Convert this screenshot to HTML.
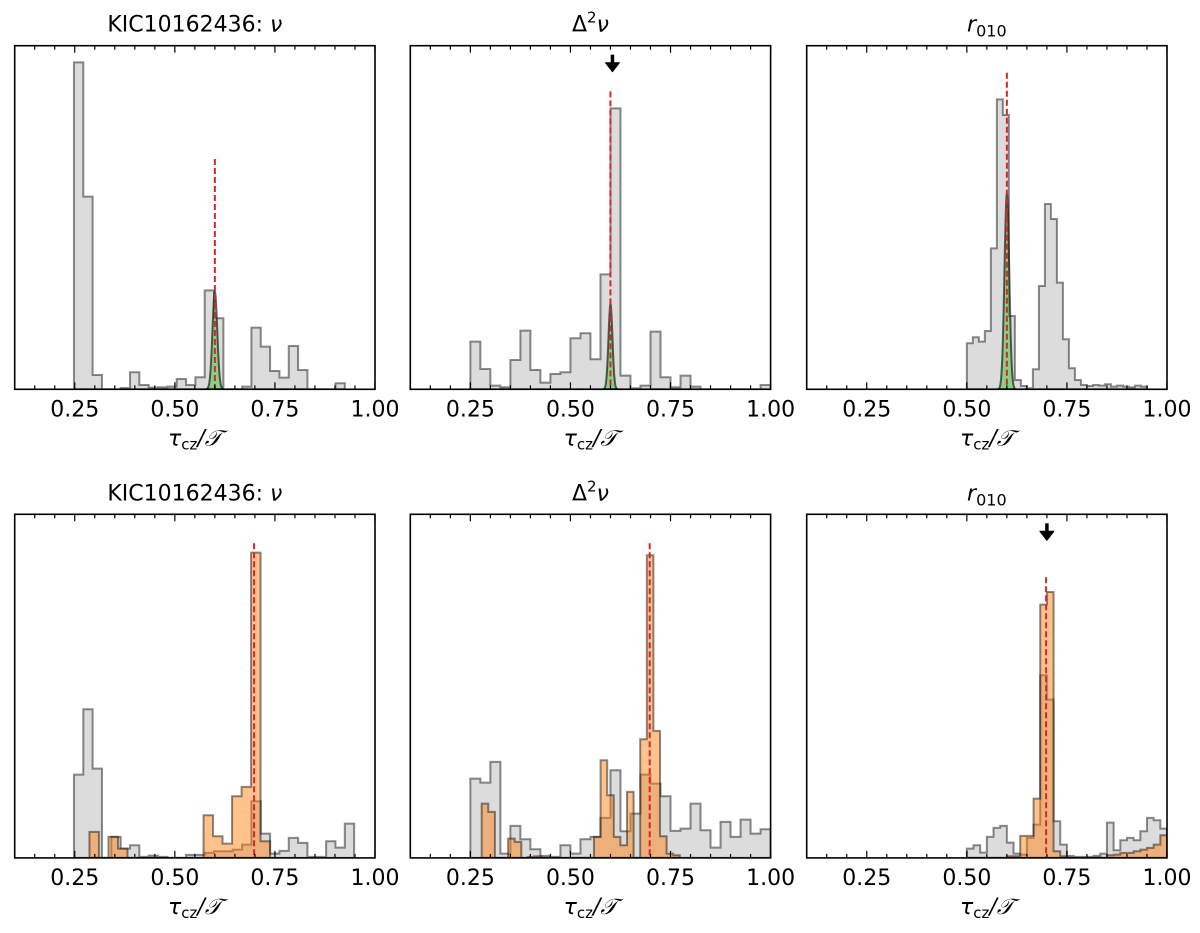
<!DOCTYPE html>
<html><head><meta charset="utf-8"><style>
html,body{margin:0;padding:0;background:#fff;}
svg{display:block;font-family:"DejaVu Sans","Liberation Sans",sans-serif;}
</style></head><body>
<svg id="fig" width="1200" height="933" viewBox="0 0 1200 933" xmlns="http://www.w3.org/2000/svg"></svg>
<script>
// ---- data (heights in relative units; 1031 = full axis height) ----
const xTicks = [0.25, 0.50, 0.75, 1.00];
const xTickLabels = ["0.25", "0.50", "0.75", "1.00"];
const titles = ["KIC10162436: ν", "Δ²ν", "r010", "KIC10162436: ν", "Δ²ν", "r010"];

const p1GreyStart = 0.248, p1GreyWidth = 0.02333;
const p1Grey = [981,578,43,0,0,4,51,13,5,6,8,31,13,36,297,213,0,0,8,185,128,55,35,130,58,0,0,0,18];
const p2GreyStart = 0.25, p2GreyWidth = 0.025;
const p2Grey = [143,61,11,6,88,176,58,20,46,51,153,168,90,345,843,41,3,11,173,36,6,41,8,0,0,0,0,0,0,13];
const p3GreyStart = 0.5, p3GreyWidth = 0.015;
const p3Grey = [138,156,143,175,423,870,823,220,28,10,3,60,310,556,511,320,150,63,28,13,10,13,11,15,8,11,8,6,11,8];

const p4GreyStart = 0.248, p4GreyWidth = 0.02333;
const p4Grey = [250,446,268,0,63,28,38,3,7,3,0,0,9,9,15,20,20,25,40,170,73,13,21,60,45,3,3,50,31,103];
const p4OrangeStart = 0.2867, p4OrangeWidth = 0.02375;
const p4Orange = [78,0,63,28,0,0,0,0,0,0,0,0,128,65,43,185,213,916,50];

const p5GreyStart = 0.25, p5GreyWidth = 0.025;
const p5Grey = [238,226,288,13,96,56,26,6,3,38,13,56,63,120,263,80,133,250,223,185,81,88,163,83,31,108,63,115,73,86];
const p5OrangeStart = 0.2783, p5OrangeWidth = 0.0165;
const p5Orange = [163,138,0,0,58,48,0,3,5,0,0,0,0,0,0,0,0,63,293,188,63,38,198,0,356,908,381,65,13,8];

const p6GreyStart = 0.5, p6GreyWidth = 0.016667;
const p6Grey = [28,38,16,63,90,96,46,13,10,60,100,548,475,110,40,6,3,3,3,6,13,106,23,53,60,53,80,120,113,88];
const p6OrangeStart = 0.5, p6OrangeWidth = 0.016667;
const p6Orange = [0,0,0,0,0,0,5,5,66,66,178,760,798,20,5,0,0,0,0,0,0,8,10,15,15,20,25,30,40,68];

// gaussian fits (top row): centre, sigma, peak
const gaussCentre = [0.6, 0.6, 0.6];
const gaussSigma = [0.006, 0.005, 0.006];
const gaussPeak = [293, 256, 588];

// red dashed reference line: x value and top (relative height)
const refX = [0.6, 0.6, 0.6, 0.698, 0.698, 0.698];
const refTop = [691, 894, 950, 944, 944, 842];
// arrows: panel index, x value
const arrowPanel = [1, 5];
const arrowX = [0.605, 0.70];

// ---- layout ----
const NS = "http://www.w3.org/2000/svg";
const svg = document.getElementById("fig");
const lefts = [14.7, 410.3, 806.7];
const W = 360.3;
const tops = [45.7, 514.3];
const H = 343.6;
const XMIN = 0.1, XMAX = 1.0, YMAX = 1031;

function mk(tag, attrs, parent) {
  const e = document.createElementNS(NS, tag);
  for (const k in attrs) e.setAttribute(k, attrs[k]);
  (parent || svg).appendChild(e);
  return e;
}
function panelGeom(i) {
  return { L: lefts[i % 3], T: tops[Math.floor(i / 3)] };
}
function xs(i, v) { const g = panelGeom(i); return g.L + (v - XMIN) / (XMAX - XMIN) * W; }
function ys(i, v) { const g = panelGeom(i); return g.T + H - v / YMAX * H; }

function histPath(i, start, width, counts) {
  const y0 = ys(i, 0);
  let d = "M" + xs(i, start).toFixed(2) + "," + y0.toFixed(2);
  counts.forEach((c, k) => {
    const a = xs(i, start + k * width), b = xs(i, start + (k + 1) * width), y = ys(i, c);
    d += " L" + a.toFixed(2) + "," + y.toFixed(2) + " L" + b.toFixed(2) + "," + y.toFixed(2);
  });
  d += " L" + xs(i, start + counts.length * width).toFixed(2) + "," + y0.toFixed(2) + " Z";
  return d;
}

const greyData = [[p1GreyStart,p1GreyWidth,p1Grey],[p2GreyStart,p2GreyWidth,p2Grey],[p3GreyStart,p3GreyWidth,p3Grey],
                  [p4GreyStart,p4GreyWidth,p4Grey],[p5GreyStart,p5GreyWidth,p5Grey],[p6GreyStart,p6GreyWidth,p6Grey]];
const orangeData = [null,null,null,[p4OrangeStart,p4OrangeWidth,p4Orange],[p5OrangeStart,p5OrangeWidth,p5Orange],[p6OrangeStart,p6OrangeWidth,p6Orange]];

for (let i = 0; i < 6; i++) {
  const g = panelGeom(i);
  const grp = mk("g", {});
  
  
  const clipId = "clip" + i;
  const cp = mk("clipPath", { id: clipId }, grp);
  mk("rect", { x: g.L, y: g.T, width: W, height: H }, cp);
  const plot = mk("g", { "clip-path": "url(#" + clipId + ")" }, grp);

  const gd = greyData[i];
  const gh = mk("path", { d: histPath(i, gd[0], gd[1], gd[2]), fill: "rgba(128,128,128,0.28)", stroke: "rgba(0,0,0,0.45)", "stroke-width": 2, "stroke-linejoin": "miter" }, plot);
  
  

  if (orangeData[i]) {
    const od = orangeData[i];
    const oh = mk("path", { d: histPath(i, od[0], od[1], od[2]), fill: "rgba(255,127,14,0.48)", stroke: "rgba(0,0,0,0.45)", "stroke-width": 2 }, plot);
    
    
  }
  if (i < 3) {
    let d = "";
    for (let t = -4; t <= 4; t += 0.1) {
      const v = gaussCentre[i] + t * gaussSigma[i];
      const h = gaussPeak[i] * Math.exp(-t * t / 2);
      d += (d ? " L" : "M") + xs(i, v).toFixed(2) + "," + ys(i, h).toFixed(2);
    }
    d += " Z";
    const gp = mk("path", { d: d, fill: "rgba(80,200,80,0.6)", stroke: "rgba(0,0,0,0.6)", "stroke-width": 2 }, plot);
    
    
  }
  const rl = mk("line", { x1: xs(i, refX[i]), x2: xs(i, refX[i]), y1: ys(i, refTop[i]), y2: g.T + H, stroke: "#d62728", "stroke-width": 2, "stroke-dasharray": "6,3" }, plot);
  
  

  // frame
  const fr = mk("rect", { x: g.L, y: g.T, width: W, height: H, fill: "none", stroke: "#000", "stroke-width": 1.6 }, grp);
  
  
  // ticks
  for (let k = 0; k <= 18; k++) {
    const v = XMIN + k * 0.05;
    const x = xs(i, v);
    const major = (k % 5 === 3);
    const len = major ? 7 : 4;
    mk("line", { x1: x, x2: x, y1: g.T + H, y2: g.T + H - len, stroke: "#000", "stroke-width": 1.2 }, grp);
    mk("line", { x1: x, x2: x, y1: g.T, y2: g.T + len, stroke: "#000", "stroke-width": 1.2 }, grp);
  }
  xTicks.forEach((v, k) => {
    const t = mk("text", { x: xs(i, v), y: g.T + H + 27, "text-anchor": "middle", "font-size": 22, fill: "#000" }, grp);
    t.textContent = xTickLabels[k];
    
    
  });
  // x label
  const xl = mk("text", { x: g.L + W / 2, y: g.T + H + 56, "text-anchor": "middle", "font-size": 22, fill: "#000" }, grp);
  
  
  const t1 = mk("tspan", { "font-style": "italic" }, xl); t1.textContent = "τ";
  const t2 = mk("tspan", { "font-size": 15, dy: 4 }, xl); t2.textContent = "cz";
  const t3 = mk("tspan", { dy: -4, "font-style": "italic" }, xl); t3.textContent = "/𝒯";

  // title
  const tt = mk("text", { x: g.L + W / 2, y: g.T - 14, "text-anchor": "middle", "font-size": 22, fill: "#000" }, grp);
  
  
  if (i % 3 === 0) {
    const a = mk("tspan", {}, tt); a.textContent = "KIC10162436: ";
    const b = mk("tspan", { "font-style": "italic" }, tt); b.textContent = "ν";
  } else if (i % 3 === 1) {
    const a = mk("tspan", {}, tt); a.textContent = "Δ";
    const b = mk("tspan", { "font-size": 15, dy: -9 }, tt); b.textContent = "2";
    const c = mk("tspan", { dy: 9, "font-style": "italic" }, tt); c.textContent = "ν";
  } else {
    const a = mk("tspan", { "font-style": "italic" }, tt); a.textContent = "r";
    const b = mk("tspan", { "font-size": 16, dy: 5 }, tt); b.textContent = "010";
  }
}
// arrows
arrowPanel.forEach((p, k) => {
  const g = panelGeom(p);
  const x = xs(p, arrowX[k]);
  const y1 = g.T + 9, y2 = g.T + 26;
  const ag = mk("g", {});
  
  
  mk("line", { x1: x, x2: x, y1: y1, y2: y2 - 6, stroke: "#000", "stroke-width": 3.5 }, ag);
  mk("path", { d: "M" + (x - 7) + "," + (y2 - 9) + " L" + (x + 7) + "," + (y2 - 9) + " L" + x + "," + y2 + " Z", fill: "#000", stroke: "#000", "stroke-width": 1, "stroke-linejoin": "round" }, ag);
});
</script>
</body></html>
